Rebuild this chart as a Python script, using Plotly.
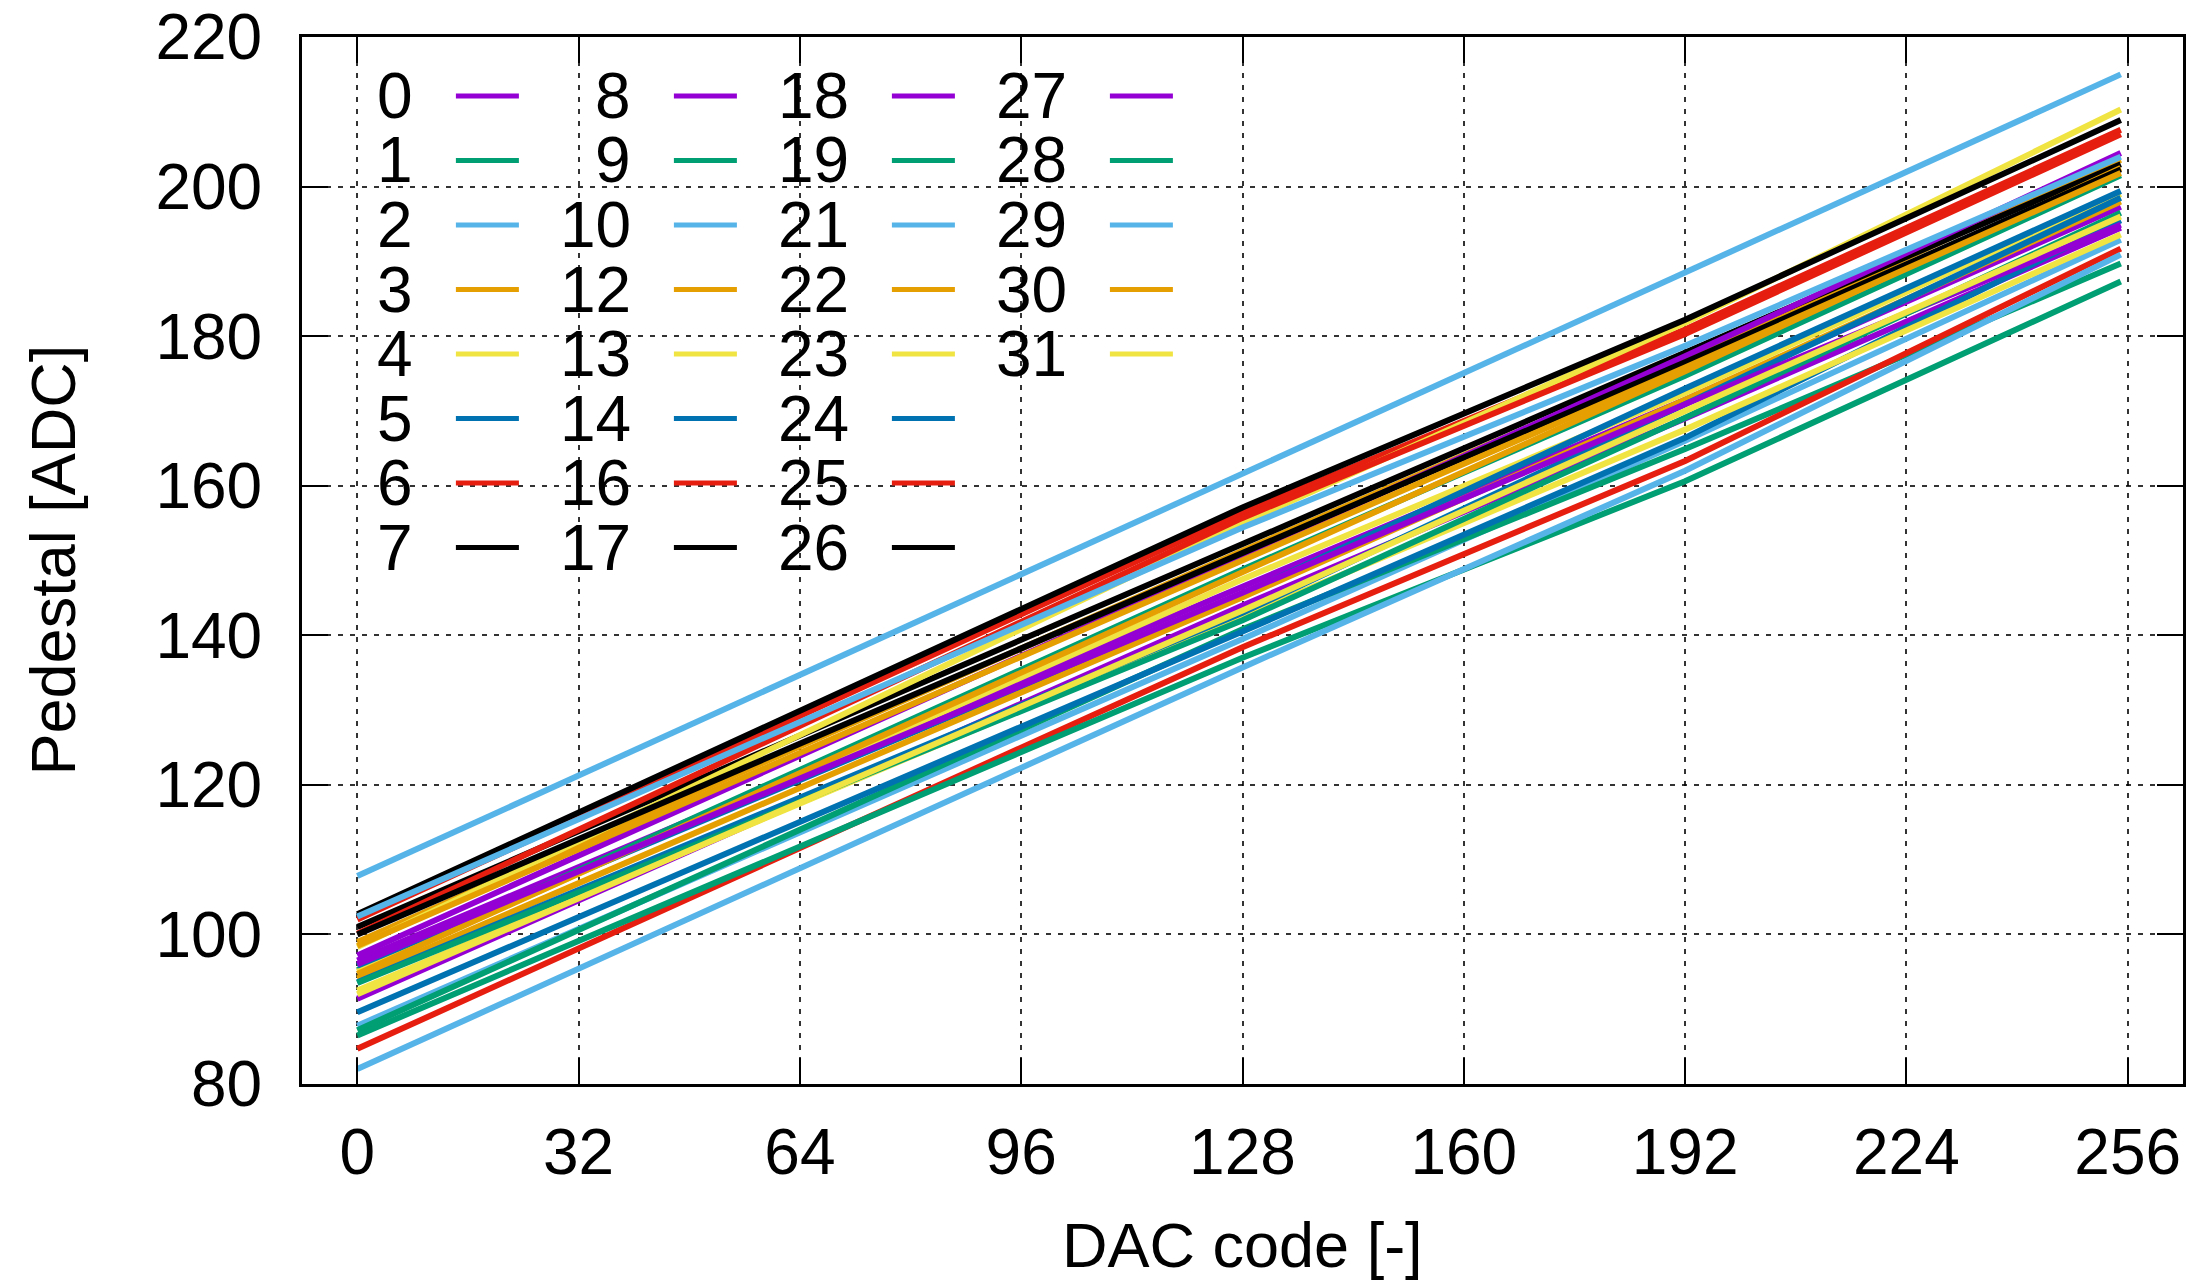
import plotly.graph_objects as go

# DAC code sample points (x)
dac = [0, 128, 192, 255]

# Channel numbers in the legend (column-major order), and their colours
channels = [0, 1, 2, 3, 4, 5, 6, 7,
            8, 9, 10, 12, 13, 14, 16, 17,
            18, 19, 21, 22, 23, 24, 25, 26,
            27, 28, 29, 30, 31]

palette = ["#9400D3", "#009E73", "#56B4E9", "#E69F00",
           "#F0E442", "#0072B2", "#E51E10", "#000000"]

# Pedestal [ADC] values at the dac points, per channel
ch0 = [96.5, 146.6, 171.5, 197.3]
ch1 = [95.2, 148.8, 174.7, 201.5]
ch2 = [87.8, 139.5, 166.0, 192.9]
ch3 = [99.0, 151.3, 176.9, 203.6]
ch4 = [95.0, 147.5, 172.4, 199.0]
ch5 = [95.8, 145.5, 173.0, 199.4]
ch6 = [102.0, 156.4, 180.9, 207.6]
ch7 = [101.0, 152.2, 177.9, 203.0]
ch8 = [91.4, 144.0, 169.0, 194.5]
ch9 = [87.2, 140.8, 164.9, 189.7]
ch10 = [107.8, 161.7, 188.5, 215.0]
ch12 = [94.7, 148.4, 175.3, 202.5]
ch13 = [98.3, 155.0, 181.8, 210.3]
ch14 = [89.6, 140.5, 166.4, 195.5]
ch16 = [84.7, 138.4, 163.3, 191.7]
ch17 = [102.7, 157.1, 182.2, 208.9]
ch18 = [97.2, 150.6, 177.3, 204.5]
ch19 = [86.5, 137.0, 160.6, 187.3]
ch21 = [82.0, 135.7, 162.0, 190.9]
ch22 = [94.1, 145.1, 171.5, 198.0]
ch23 = [92.5, 142.6, 167.5, 193.6]
ch24 = [93.6, 143.0, 170.9, 198.5]
ch25 = [100.1, 155.7, 180.3, 207.0]
ch26 = [100.0, 151.0, 176.5, 202.3]
ch27 = [96.0, 145.7, 170.9, 194.9]
ch28 = [93.5, 142.0, 169.1, 196.5]
ch29 = [102.4, 154.4, 178.7, 204.0]
ch30 = [98.5, 150.0, 175.8, 201.8]
ch31 = [92.0, 143.3, 170.0, 196.0]

series = [ch0, ch1, ch2, ch3, ch4, ch5, ch6, ch7,
          ch8, ch9, ch10, ch12, ch13, ch14, ch16, ch17,
          ch18, ch19, ch21, ch22, ch23, ch24, ch25, ch26,
          ch27, ch28, ch29, ch30, ch31]

x_ticks = [0, 32, 64, 96, 128, 160, 192, 224, 256]
y_ticks = [80, 100, 120, 140, 160, 180, 200, 220]

FONT = "Liberation Sans, Arial, Helvetica, sans-serif"
W, H = 2208, 1281
ML, MR, MT, MB = 302, 25, 37, 197
PW, PH = W - ML - MR, H - MT - MB

fig = go.Figure()
for i, (ch, vals) in enumerate(zip(channels, series)):
    color = palette[i % 8]
    fig.add_trace(go.Scatter(x=dac, y=vals, mode="lines", name=str(ch),
                             line=dict(color=color, width=6),
                             showlegend=False))

def px_x(p):
    return (p - ML) / PW

def px_y(p):
    return (MT + PH - p) / PH

shapes = []
annotations = []

# opaque key area (covers gridlines, under traces)
shapes.append(dict(type="rect", xref="paper", yref="paper", layer="between",
                   x0=0, x1=px_x(1204), y0=px_y(577), y1=1,
                   fillcolor="white", line=dict(width=0)))

# gnuplot-style key: label, then line sample; 8 rows per column
row0, drow = 96.0, 64.5
col_label_right = 414.9
col_dx = 218.0
for i, ch in enumerate(channels):
    col, row = divmod(i, 8)
    yc = row0 + row * drow
    xr = col_label_right + col * col_dx
    annotations.append(dict(xref="paper", yref="paper", x=px_x(xr), y=px_y(yc),
                            xanchor="right", yanchor="middle", showarrow=False,
                            height=58, valign="middle",
                            text=str(ch), font=dict(family=FONT, size=64, color="black")))
    shapes.append(dict(type="line", xref="paper", yref="paper", layer="above",
                       x0=px_x(xr + 41), x1=px_x(xr + 104), y0=px_y(yc), y1=px_y(yc),
                       line=dict(color=palette[i % 8], width=5)))

# axis titles
annotations.append(dict(xref="paper", yref="paper", x=0.5, y=px_y(1245),
                        xanchor="center", yanchor="middle", showarrow=False,
                        text="DAC code [-]", font=dict(family=FONT, size=63, color="black")))
annotations.append(dict(xref="paper", yref="paper", x=px_x(52), y=0.5, textangle=-90,
                        xanchor="center", yanchor="middle", showarrow=False,
                        text="Pedestal [ADC]", font=dict(family=FONT, size=63, color="black")))

axis_common = dict(showline=True, linecolor="black", linewidth=3, mirror="allticks",
                   ticks="inside", ticklen=26, tickwidth=2, tickcolor="black",
                   showgrid=True, gridcolor="rgba(0,0,0,0.8)", gridwidth=1.5,
                   griddash="5px,7px", zeroline=False,
                   tickfont=dict(family=FONT, size=64, color="black"))

fig.update_layout(
    width=W, height=H,
    margin=dict(l=ML, r=MR, t=MT, b=MB, autoexpand=False),
    paper_bgcolor="white", plot_bgcolor="white",
    xaxis=dict(range=[-8, 264], tickvals=x_ticks, ticktext=[str(v) for v in x_ticks],
               ticklabelstandoff=10, **axis_common),
    yaxis=dict(range=[80, 220], tickvals=y_ticks, ticktext=[str(v) for v in y_ticks],
               ticklabelstandoff=24, **axis_common),
    shapes=shapes, annotations=annotations,
    showlegend=False,
)

fig.write_html("out.html")
